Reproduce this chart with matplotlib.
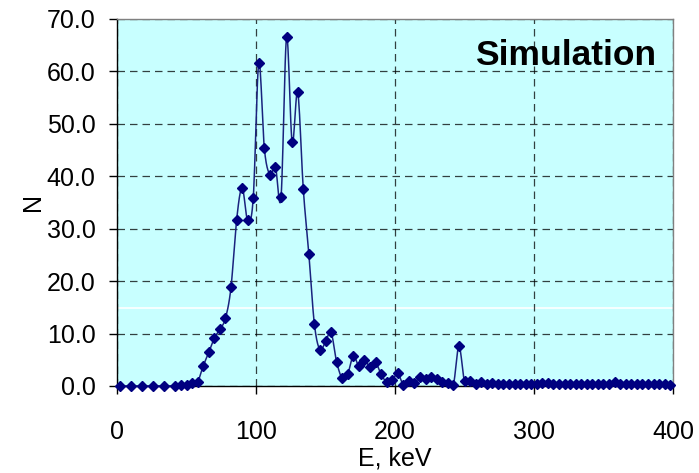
"""
Simulated energy spectrum, N vs E (keV)
"""

import numpy as np
import matplotlib
matplotlib.use('Agg')
import matplotlib.pyplot as plt

# energy bins (keV): coarse 8 keV steps at the start, then 4 keV steps
e_low = [2, 10, 18, 26, 34, 42]
e_high = list(np.arange(46, 399, 4))
energy = np.array(e_low + e_high, dtype=float)

n_low = [0.0, 0.0, 0.0, 0.0, 0.0, 0.0]
n_peak = [0.1, 0.2, 0.5, 0.8, 3.8, 6.4, 9.1, 10.8, 12.9, 18.8,
          31.6, 37.8, 31.6, 35.8, 61.6, 45.3, 40.3, 41.7, 36.0, 66.5,
          46.5, 56.0, 37.6, 25.2, 11.8, 6.9, 8.5, 10.2, 4.6, 1.5,
          2.3, 5.8, 3.8, 5.0, 3.6, 4.5, 2.2, 0.8, 1.1, 2.4,
          0.2, 1.0, 0.5, 1.8, 1.3, 1.7, 1.3, 0.8, 0.5, 0.2,
          7.6, 0.9, 0.9, 0.3, 0.7]
n_tail = [0.4, 0.5, 0.3, 0.3, 0.4, 0.3, 0.3, 0.4, 0.3, 0.4,
          0.5, 0.6, 0.4, 0.3, 0.4, 0.3, 0.3, 0.4, 0.3, 0.3,
          0.3, 0.4, 0.4, 0.7, 0.4, 0.3, 0.3, 0.3, 0.3, 0.3,
          0.3, 0.3, 0.3, 0.2]
counts = np.array(n_low + n_peak + n_tail)

x_ticks = [0, 100, 200, 300, 400]
y_ticks = [0, 10, 20, 30, 40, 50, 60, 70]


def smooth(x, y, steps=12):
    """Catmull-Rom style smoothing, roughly like Excel's smoothed line"""
    xs, ys = [], []
    px = np.concatenate([[x[0]], x, [x[-1]]])
    py = np.concatenate([[y[0]], y, [y[-1]]])
    t = np.linspace(0, 1, steps, endpoint=False)
    for i in range(1, len(px) - 2):
        p0, p1, p2, p3 = px[i - 1], px[i], px[i + 1], px[i + 2]
        q0, q1, q2, q3 = py[i - 1], py[i], py[i + 1], py[i + 2]
        # bezier control points
        c1x, c1y = p1 + (p2 - p0) / 6, q1 + (q2 - q0) / 6
        c2x, c2y = p2 - (p3 - p1) / 6, q2 - (q3 - q1) / 6
        b0, b1, b2, b3 = (1 - t) ** 3, 3 * t * (1 - t) ** 2, 3 * t ** 2 * (1 - t), t ** 3
        xs.extend(b0 * p1 + b1 * c1x + b2 * c2x + b3 * p2)
        ys.extend(b0 * q1 + b1 * c1y + b2 * c2y + b3 * q2)
    xs.append(x[-1])
    ys.append(y[-1])
    return np.array(xs), np.array(ys)


plt.rcParams['font.family'] = ['Liberation Sans', 'DejaVu Sans']

fig = plt.figure(figsize=(6.99, 4.73), dpi=100)
ax = fig.add_axes([0.1674, 0.184, 0.7954, 0.776])
ax.set_facecolor('#C8FFFF')

navy = '#000080'
ax.axhline(14.9, color='white', lw=1.2, zorder=1)
ax.grid(True, color='black', linestyle=(0, (6, 4)), linewidth=0.9, alpha=0.75, zorder=1)

sx, sy = smooth(energy, counts)
ax.plot(sx, sy, color='#1a237e', lw=1.1, zorder=3, clip_on=False)
ax.plot(energy, counts, linestyle='none', marker='D', markersize=4.8,
        color=navy, zorder=4, clip_on=False)

ax.set_xlim(0, 400)
ax.set_ylim(0, 70)
ax.set_xticks(x_ticks)
ax.set_yticks(y_ticks)
ax.set_yticklabels(['%.1f' % v for v in y_ticks])
ax.tick_params(axis='both', direction='out', length=5.5, width=1, labelsize=18, colors='black')
ax.tick_params(axis='x', pad=19)
ax.tick_params(axis='y', pad=10)

for side in ['left', 'bottom']:
    ax.spines[side].set_color('black')
    ax.spines[side].set_linewidth(1)
for side in ['top', 'right']:
    ax.spines[side].set_color('#808080')
    ax.spines[side].set_linewidth(1)

ax.set_xlabel('E, keV', fontsize=18, labelpad=2)
ax.set_ylabel('N', fontsize=18, labelpad=1)

ax.text(0.807, 0.9, 'Simulation', transform=ax.transAxes, ha='center', va='center',
        fontsize=25.5, fontweight='bold', zorder=5)

fig.savefig('out.png', dpi=100)
